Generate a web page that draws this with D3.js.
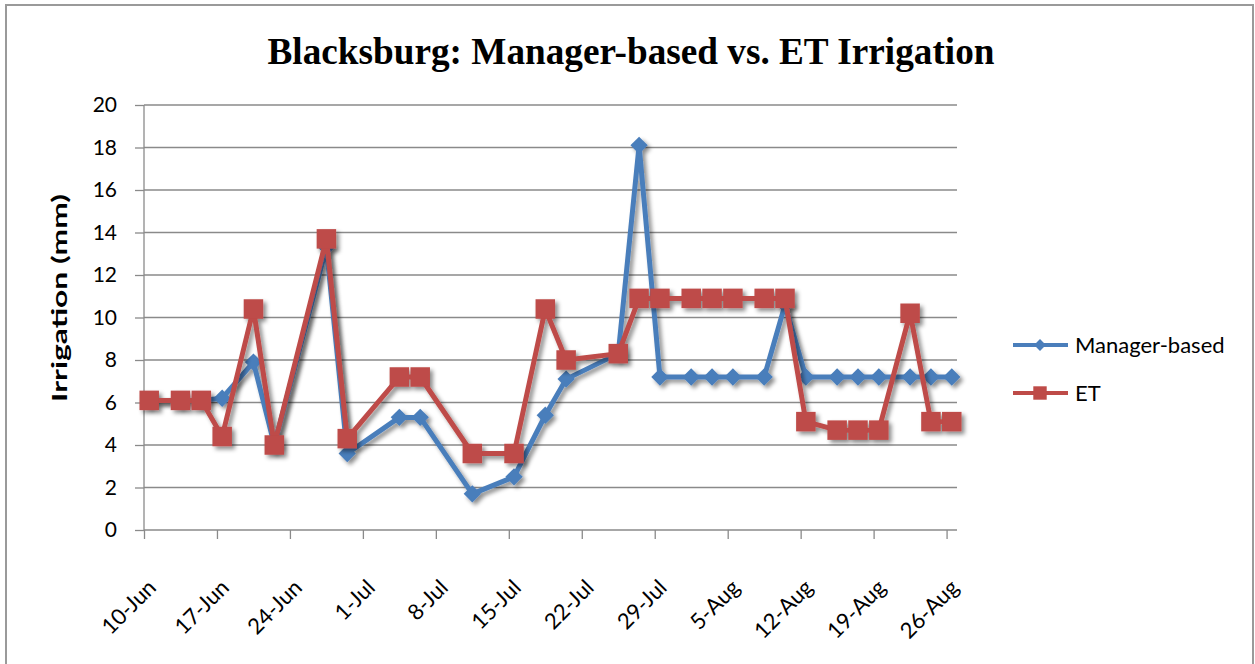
<!DOCTYPE html>
<html>
<head>
<meta charset="utf-8">
<script src="https://cdn.jsdelivr.net/npm/d3@7"></script>
<style>
  body { margin: 0; background: #fff; }
  svg { display: block; }
</style>
</head>
<body>
<svg id="chart" width="1255" height="664"></svg>
<script>
// ---- data ----
const dates = ["2009-06-10","2009-06-13","2009-06-15","2009-06-17","2009-06-20","2009-06-22",
  "2009-06-27","2009-06-29","2009-07-04","2009-07-06","2009-07-11","2009-07-15","2009-07-18",
  "2009-07-20","2009-07-25","2009-07-27","2009-07-29","2009-08-01","2009-08-03","2009-08-05",
  "2009-08-08","2009-08-10","2009-08-12","2009-08-15","2009-08-17","2009-08-19","2009-08-22",
  "2009-08-24","2009-08-26"];
const managerBased = [6.1, 6.1, 6.1, 6.2, 7.9, 4.0, 13.3, 3.6, 5.3, 5.3, 1.7, 2.5, 5.4,
  7.1, 8.3, 18.1, 7.2, 7.2, 7.2, 7.2, 7.2, 10.6, 7.2, 7.2, 7.2, 7.2, 7.2, 7.2, 7.2];
const et = [6.1, 6.1, 6.1, 4.4, 10.4, 4.0, 13.7, 4.3, 7.2, 7.2, 3.6, 3.6, 10.4,
  8.0, 8.3, 10.9, 10.9, 10.9, 10.9, 10.9, 10.9, 10.9, 5.1, 4.7, 4.7, 4.7, 10.2, 5.1, 5.1];
const xTickLabels = ["10-Jun","17-Jun","24-Jun","1-Jul","8-Jul","15-Jul","22-Jul","29-Jul",
  "5-Aug","12-Aug","19-Aug","26-Aug"];
const yTicks = [0, 2, 4, 6, 8, 10, 12, 14, 16, 18, 20];
const seriesNames = ["Manager-based", "ET"];
const seriesColors = ["#4A7EBB", "#BE4B48"];

// ---- setup ----
const svg = d3.select("#chart");
const parse = d3.timeParse("%Y-%m-%d");
const dayMs = 24 * 3600 * 1000;
const xDates = dates.map(parse);

const x = d3.scaleTime()
  .domain([parse("2009-06-10"), parse("2009-08-27")])
  .range([144, 957]);
const y = d3.scaleLinear().domain([0, 20]).range([530, 105]);

// shadow filter
const defs = svg.append("defs");
const f = defs.append("filter").attr("id", "shadow")
  .attr("x", "-20%").attr("y", "-20%").attr("width", "140%").attr("height", "140%");
f.append("feDropShadow").attr("dx", 3).attr("dy", 3).attr("stdDeviation", 2.2)
  .attr("flood-color", "#000").attr("flood-opacity", 0.45);

// frame
svg.append("rect").attr("x", 6).attr("y", 5).attr("width", 1247).attr("height", 680)
  .attr("fill", "#fff").attr("stroke", "#9a9a9a").attr("stroke-width", 2);

// title
svg.append("text").attr("x", 631).attr("y", 64).attr("text-anchor", "middle")
  .attr("font-family", "Liberation Serif, Times New Roman, serif")
  .attr("font-weight", "bold").attr("font-size", 37)
  .attr("textLength", 727).attr("lengthAdjust", "spacingAndGlyphs")
  .attr("fill", "#000")
  .text("Blacksburg: Manager-based vs. ET Irrigation");

// gridlines
svg.append("g").selectAll("line").data(yTicks.filter(d => d > 0)).join("line")
  .attr("x1", 144).attr("x2", 957)
  .attr("y1", d => y(d)).attr("y2", d => y(d))
  .attr("stroke", "#8a8a8a").attr("stroke-width", 1.3);

// y axis
const yAxis = d3.axisLeft(y).tickValues(yTicks).tickSize(9).tickPadding(18)
  .tickFormat(d3.format("d"));
const gy = svg.append("g").attr("transform", "translate(144,0)").call(yAxis);
gy.select(".domain").attr("stroke", "#8a8a8a").attr("stroke-width", 1.3)
  .attr("d", "M0,105V530");
gy.selectAll(".tick line").attr("stroke", "#8a8a8a").attr("stroke-width", 1.3);
gy.selectAll(".tick text").attr("font-family", "Lato, Open Sans, sans-serif")
  .attr("font-size", 21).attr("fill", "#000");

// x axis
const tickDates = xTickLabels.map((d, i) => new Date(parse("2009-06-10").getTime() + i * 7 * dayMs));
const xAxis = d3.axisBottom(x).tickValues(tickDates).tickSize(9)
  .tickFormat((d, i) => xTickLabels[i]);
const gx = svg.append("g").attr("transform", "translate(0,530)").call(xAxis);
gx.select(".domain").attr("stroke", "#8a8a8a").attr("stroke-width", 1.3)
  .attr("d", "M144,0H957");
gx.selectAll(".tick line").attr("stroke", "#8a8a8a").attr("stroke-width", 1.3);
gx.selectAll(".tick text")
  .attr("font-family", "Lato, Open Sans, sans-serif").attr("font-size", 22).attr("fill", "#000")
  .attr("text-anchor", "end").attr("y", 0).attr("dy", 0)
  .attr("transform", "translate(13,59) rotate(-45)");

// y label
svg.append("text").attr("transform", "translate(67,298) rotate(-90)")
  .attr("text-anchor", "middle").attr("font-family", "Lato, Open Sans, sans-serif")
  .attr("font-weight", "bold").attr("font-size", 21).attr("fill", "#000")
  .attr("textLength", 208).attr("lengthAdjust", "spacingAndGlyphs")
  .text("Irrigation (mm)");

// series
const xPos = d => x(new Date(d.getTime() + dayMs / 2));
const line = d3.line().x(d => xPos(d.date)).y(d => y(d.v));
const series = [managerBased, et].map((vals, si) => ({
  name: seriesNames[si], color: seriesColors[si],
  pts: vals.map((v, i) => ({ date: xDates[i], v }))
}));

const diamond = d3.symbol().type(d3.symbolSquare).size(150);
const square = d3.symbol().type(d3.symbolSquare).size(380);

series.forEach((s, si) => {
  const g = svg.append("g").attr("filter", "url(#shadow)");
  g.append("path").datum(s.pts).attr("d", line)
    .attr("fill", "none").attr("stroke", s.color).attr("stroke-width", 5)
    .attr("stroke-linejoin", "round");
  g.selectAll("path.m").data(s.pts).join("path").attr("class", "m")
    .attr("d", si === 0 ? diamond : square)
    .attr("transform", d => `translate(${xPos(d.date)},${y(d.v)})` + (si === 0 ? " rotate(45)" : ""))
    .attr("fill", s.color);
});

// legend
const leg = svg.append("g");
series.forEach((s, si) => {
  const ly = 345 + si * 48;
  leg.append("line").attr("x1", 1013).attr("x2", 1068).attr("y1", ly).attr("y2", ly)
    .attr("stroke", s.color).attr("stroke-width", 4);
  leg.append("path").attr("d", si === 0 ? d3.symbol().type(d3.symbolSquare).size(70)() : d3.symbol().type(d3.symbolSquare).size(180)())
    .attr("transform", `translate(1040,${ly})` + (si === 0 ? " rotate(45)" : ""))
    .attr("fill", s.color);
  leg.append("text").attr("x", 1075).attr("y", ly).attr("dy", "0.36em")
    .attr("font-family", "Lato, Open Sans, sans-serif").attr("font-size", 22)
    .attr("fill", "#000").text(s.name);
});
</script>
</body>
</html>
